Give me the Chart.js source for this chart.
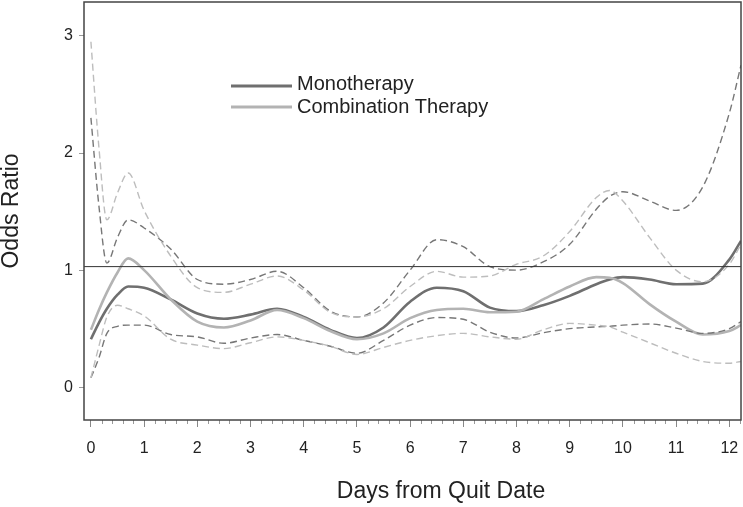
<!DOCTYPE html>
<html>
<head>
<meta charset="utf-8">
<script src="https://cdn.jsdelivr.net/npm/chart.js@4/dist/chart.umd.min.js"></script>
<style>
  body { margin: 0; background: #fff; }
  #wrap { width: 743px; height: 507px; position: relative; }
</style>
</head>
<body>
<div id="wrap"><canvas id="oddsChart"></canvas></div>
<script>
// Odds ratio by days from quit date

// Data
const days = [0, 0.15, 0.3, 0.5, 0.7, 1, 1.5, 2, 2.5, 3, 3.5, 4, 4.5, 5, 5.5, 6, 6.5, 7, 7.5, 8, 8.5, 9, 9.5, 9.75, 10, 10.5, 11, 11.5, 12, 12.22];
const monoOR = [0.41, 0.55, 0.67, 0.79, 0.86, 0.85, 0.75, 0.63, 0.585, 0.62, 0.67, 0.60, 0.49, 0.42, 0.51, 0.73, 0.85, 0.82, 0.68, 0.65, 0.70, 0.78, 0.88, 0.92, 0.94, 0.92, 0.88, 0.885, 1.09, 1.25];
const comboOR = [0.49, 0.66, 0.81, 0.98, 1.10, 1.00, 0.75, 0.56, 0.51, 0.57, 0.66, 0.59, 0.48, 0.41, 0.46, 0.59, 0.66, 0.67, 0.64, 0.645, 0.75, 0.86, 0.94, 0.935, 0.89, 0.71, 0.56, 0.45, 0.48, 0.53];
const monoUpper = [2.30, 1.55, 1.06, 1.28, 1.43, 1.36, 1.18, 0.92, 0.88, 0.92, 0.99, 0.85, 0.65, 0.60, 0.72, 1.00, 1.26, 1.20, 1.03, 1.00, 1.07, 1.22, 1.52, 1.63, 1.67, 1.59, 1.51, 1.71, 2.34, 2.75];
const monoLower = [0.08, 0.25, 0.46, 0.52, 0.53, 0.53, 0.45, 0.43, 0.375, 0.42, 0.45, 0.40, 0.35, 0.29, 0.40, 0.53, 0.595, 0.58, 0.47, 0.42, 0.465, 0.50, 0.515, 0.52, 0.53, 0.54, 0.505, 0.46, 0.50, 0.56];
const comboUpper = [2.95, 2.05, 1.43, 1.66, 1.83, 1.51, 1.12, 0.85, 0.81, 0.88, 0.95, 0.83, 0.64, 0.60, 0.67, 0.86, 0.99, 0.94, 0.95, 1.05, 1.12, 1.33, 1.62, 1.68, 1.59, 1.28, 1.00, 0.90, 1.05, 1.22];
const comboLower = [0.08, 0.35, 0.60, 0.70, 0.67, 0.61, 0.41, 0.36, 0.33, 0.38, 0.43, 0.40, 0.35, 0.28, 0.34, 0.40, 0.44, 0.46, 0.43, 0.41, 0.49, 0.545, 0.53, 0.515, 0.47, 0.38, 0.29, 0.22, 0.205, 0.22];

const xTicks = [0, 1, 2, 3, 4, 5, 6, 7, 8, 9, 10, 11, 12];
const yTicks = [0, 1, 2, 3];
const refLevel = 1.03;
const xRange = [-0.13, 12.22];
const yRange = [-0.28, 3.29];

const darkGray = '#6f6f6f';
const lightGray = '#b3b3b3';
const fontFamily = "Arial, 'Liberation Sans', Helvetica, sans-serif";

function toPoints(values) {
  return days.map((d, i) => ({ x: d, y: values[i] }));
}

function lineSet(label, values, color, width, dash) {
  return {
    label: label,
    data: toPoints(values),
    borderColor: color,
    borderWidth: width,
    borderDash: dash || [],
    pointRadius: 0,
    fill: false,
    cubicInterpolationMode: 'monotone'
  };
}

// Box, minor ticks, axis titles and the legend
const decorations = {
  id: 'decorations',
  beforeDatasetsDraw(chart) {
    const ctx = chart.ctx;
    const x = chart.scales.x;
    const area = chart.chartArea;
    ctx.save();
    ctx.strokeStyle = '#999';
    ctx.lineWidth = 1;
    for (let v = 0.2; v < xRange[1]; v += 0.2) {
      if (Math.abs(v - Math.round(v)) < 0.01) continue;
      const px = Math.round(x.getPixelForValue(v)) + 0.5;
      ctx.beginPath();
      ctx.moveTo(px, area.bottom);
      ctx.lineTo(px, area.bottom + 4);
      ctx.stroke();
    }
    ctx.restore();
  },
  afterDraw(chart) {
    const ctx = chart.ctx;
    const area = chart.chartArea;
    ctx.save();
    ctx.strokeStyle = '#444';
    ctx.lineWidth = 1.5;
    ctx.strokeRect(area.left, area.top, area.right - area.left, area.bottom - area.top);

    ctx.fillStyle = '#222';
    ctx.font = '23px ' + fontFamily;
    ctx.textAlign = 'center';
    ctx.textBaseline = 'alphabetic';
    ctx.fillText('Days from Quit Date', 441, 498);

    ctx.translate(18, (area.top + area.bottom) / 2);
    ctx.rotate(-Math.PI / 2);
    ctx.fillText('Odds Ratio', 0, 0);
    ctx.restore();

    // legend
    ctx.save();
    ctx.lineWidth = 3;
    ctx.strokeStyle = darkGray;
    ctx.beginPath(); ctx.moveTo(231, 86); ctx.lineTo(292, 86); ctx.stroke();
    ctx.strokeStyle = lightGray;
    ctx.beginPath(); ctx.moveTo(231, 107); ctx.lineTo(292, 107); ctx.stroke();
    ctx.fillStyle = '#222';
    ctx.font = '20px ' + fontFamily;
    ctx.textAlign = 'left';
    ctx.textBaseline = 'alphabetic';
    ctx.fillText('Monotherapy', 297, 90);
    ctx.fillText('Combination Therapy', 297, 113);
    ctx.restore();
  }
};

const ctx = document.getElementById('oddsChart').getContext('2d');

new Chart(ctx, {
  type: 'line',
  data: {
    datasets: [
      {
        label: 'Reference',
        data: [{ x: xRange[0], y: refLevel }, { x: xRange[1], y: refLevel }],
        borderColor: '#333',
        borderWidth: 1,
        pointRadius: 0,
        tension: 0
      },
      lineSet('Combination upper', comboUpper, '#bdbdbd', 1.4, [7, 4]),
      lineSet('Combination lower', comboLower, '#bdbdbd', 1.4, [7, 4]),
      lineSet('Monotherapy upper', monoUpper, '#777', 1.4, [7, 4]),
      lineSet('Monotherapy lower', monoLower, '#777', 1.4, [7, 4]),
      lineSet('Combination Therapy', comboOR, lightGray, 2.6),
      lineSet('Monotherapy', monoOR, darkGray, 2.6)
    ]
  },
  options: {
    responsive: true,
    maintainAspectRatio: false,
    animation: false,
    layout: { padding: { top: 2, right: 2, left: 0, bottom: 0 } },
    plugins: {
      legend: { display: false },
      tooltip: { enabled: false }
    },
    scales: {
      x: {
        type: 'linear',
        min: xRange[0],
        max: xRange[1],
        afterBuildTicks: scale => { scale.ticks = xTicks.map(v => ({ value: v })); },
        afterFit: scale => {
          scale.height = 87;
          scale.paddingLeft = 0;
          scale.paddingRight = 0;
        },
        border: { display: false },
        grid: { drawOnChartArea: false, tickLength: 7, tickColor: '#888' },
        ticks: {
          padding: 12,
          maxRotation: 0,
          autoSkip: false,
          color: '#222',
          font: { size: 16, family: fontFamily }
        }
      },
      y: {
        type: 'linear',
        min: yRange[0],
        max: yRange[1],
        afterBuildTicks: scale => { scale.ticks = yTicks.map(v => ({ value: v })); },
        afterFit: scale => {
          scale.width = 84;
          scale.paddingTop = 0;
          scale.paddingBottom = 0;
        },
        border: { display: false },
        grid: { drawOnChartArea: false, tickLength: 5, tickColor: '#999' },
        ticks: {
          padding: 6,
          color: '#222',
          font: { size: 16, family: fontFamily }
        }
      }
    }
  },
  plugins: [decorations]
});
</script>
</body>
</html>
